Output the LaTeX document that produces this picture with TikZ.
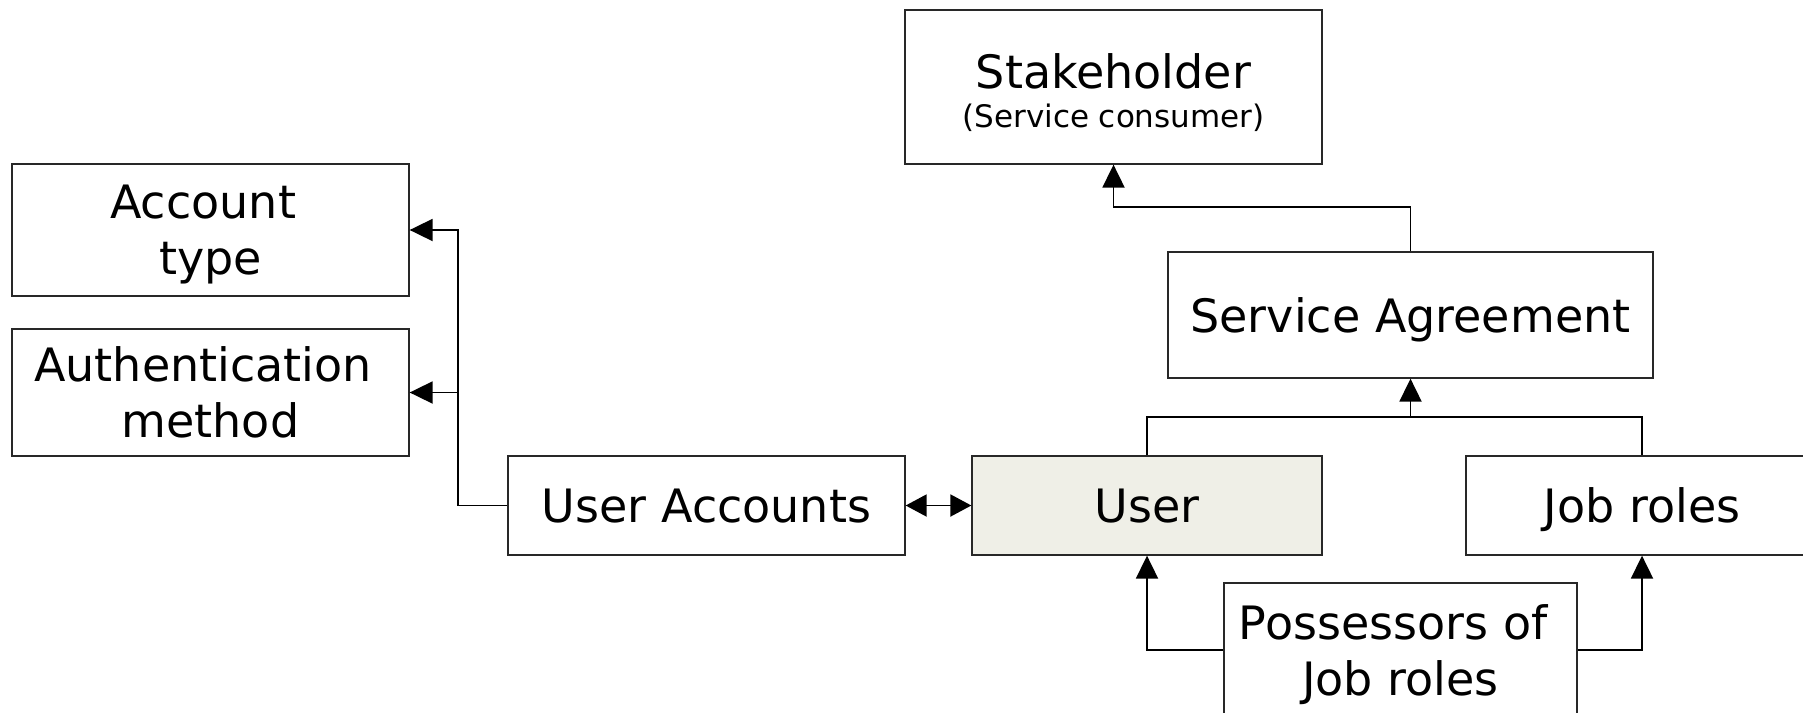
\documentclass[tikz,border=0pt]{standalone}
\usepackage{fontspec}
\setmainfont{DejaVu Sans}
\usetikzlibrary{arrows.meta}
\definecolor{userfill}{RGB}{239,239,231}
\definecolor{edge}{RGB}{40,40,40}
\newcommand{\gap}{\kern0.32em}
\tikzset{
  x=1pt, y=-1pt,
  box/.style={draw=edge, line width=1.3pt, fill=white, align=center, inner sep=0pt,
              text depth=0pt, font=\fontsize{46}{56}\selectfont},
  wire/.style={line width=1.9pt, black},
  arr/.style={wire, -{Triangle[length=23pt,width=22pt]}},
  arrs/.style={wire, {Triangle[length=21pt,width=22pt]}-{Triangle[length=21pt,width=22pt]}},
  small/.style={font=\fontsize{31}{37}\selectfont},
}
\begin{document}
\begin{tikzpicture}
\useasboundingbox (0,0) rectangle (1803,712);

% boxes
\node[box, minimum width=417pt, minimum height=154pt] (st) at (1113.5,87) {};
\node[anchor=base, font=\fontsize{46}{56}\selectfont, inner sep=0pt] (sttitle) at (1113.5,88) {Stakeholder};
\node[anchor=base, small, inner sep=0pt] (stsub) at (1113.5,127) {(Service consumer)};

\node[box, minimum width=485pt, minimum height=126pt] (sa) at (1410.5,315) {Service Agreement};

\node[box, minimum width=397pt, minimum height=132pt] (acct) at (210.5,230) {Account\gap\\type};
\node[box, minimum width=397pt, minimum height=127pt] (auth) at (210.5,392.5) {Authentication\gap\\method};

\node[box, minimum width=397pt, minimum height=99pt] (ua) at (706.5,505.5) {User Accounts};
\node[box, fill=userfill, minimum width=350pt, minimum height=99pt] (user) at (1147,505.5) {User};
\node[box, minimum width=352pt, minimum height=99pt] (jobs) at (1642,505.5) {Job roles};

\node[box, minimum width=353pt, minimum height=134pt] (pos) at (1400.5,650) {Possessors of\gap\\Job roles};

% connectors
\draw[arr] (sa.north) -- ++(0,-44) -| (st.south);

\coordinate (bus) at (sa.south |- 0,417);
\draw[wire] (user.north) |- (bus) -| (jobs.north);
\draw[arr] (bus) -- (sa.south);

\coordinate (trunk) at ([xshift=-49pt]ua.west);
\draw[wire] (ua.west) -- (trunk);
\draw[arr] (trunk) |- (acct.east);
\draw[arr] (trunk) |- (auth.east);

\draw[arrs] (ua.east) -- (user.west);

\draw[arr] (pos.west) -| (user.south);
\draw[arr] (pos.east) -| (jobs.south);
\end{tikzpicture}
\end{document}
